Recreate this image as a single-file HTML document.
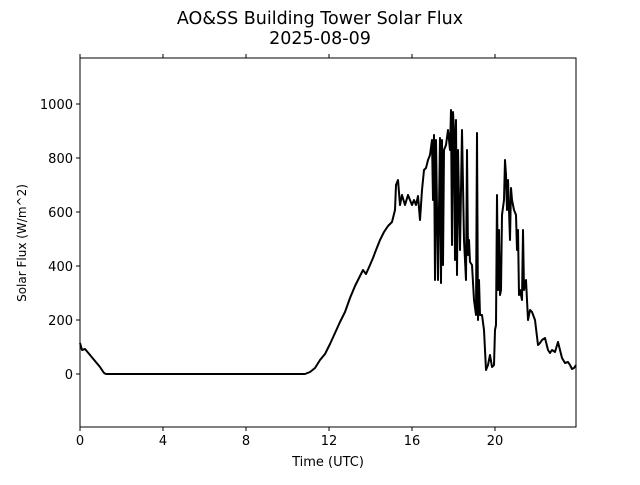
<!DOCTYPE html>
<html><head><style>body{margin:0;background:#fff}svg text{font-family:"DejaVu Sans","Liberation Sans",sans-serif}</style></head>
<body>
<svg width="640" height="480" viewBox="0 0 640 480">
<rect width="640" height="480" fill="#fff"/>
<text x="320" y="24" font-size="17.5" text-anchor="middle">AO&amp;SS Building Tower Solar Flux</text>
<text x="320" y="44" font-size="17.5" text-anchor="middle">2025-08-09</text>
<g stroke="#000" stroke-width="1">
<line x1="80" y1="427" x2="80" y2="431"/><line x1="163" y1="427" x2="163" y2="431"/><line x1="246" y1="427" x2="246" y2="431"/><line x1="329" y1="427" x2="329" y2="431"/><line x1="412" y1="427" x2="412" y2="431"/><line x1="495" y1="427" x2="495" y2="431"/>
<line x1="80" y1="58" x2="80" y2="54"/><line x1="163" y1="58" x2="163" y2="54"/><line x1="246" y1="58" x2="246" y2="54"/><line x1="329" y1="58" x2="329" y2="54"/><line x1="412" y1="58" x2="412" y2="54"/><line x1="495" y1="58" x2="495" y2="54"/>
<line x1="80" y1="374" x2="76" y2="374"/><line x1="80" y1="320" x2="76" y2="320"/><line x1="80" y1="266" x2="76" y2="266"/><line x1="80" y1="212" x2="76" y2="212"/><line x1="80" y1="158" x2="76" y2="158"/><line x1="80" y1="104" x2="76" y2="104"/>
</g>
<g font-size="13" text-anchor="middle">
<text x="80" y="445">0</text><text x="163" y="445">4</text><text x="246" y="445">8</text><text x="329" y="445">12</text><text x="412" y="445">16</text><text x="495" y="445">20</text>
</g>
<g font-size="13" text-anchor="end">
<text x="73" y="379">0</text><text x="73" y="325">200</text><text x="73" y="271">400</text><text x="73" y="217">600</text><text x="73" y="163">800</text><text x="73" y="109">1000</text>
</g>
<text x="328" y="466" font-size="13" text-anchor="middle">Time (UTC)</text>
<text transform="translate(26,243) rotate(-90)" font-size="12" text-anchor="middle">Solar Flux (W/m^2)</text>
<polyline fill="none" stroke="#000" stroke-width="2" stroke-linejoin="round" points="80,343 82,350 85,349 90,355 100,367 104,373 106,374 305,374 310,372 315,368 320,360 325,354 330,344 335,333 340,322 345,312 350,298 355,286 360,276 363,270 366,274 370,265 373,258 376,250 380,240 384,232 388,226 392,222 395,210 396,185 398,180 400,205 402,195 405,205 408,195 410,200 412,205 414,200 416,205 418,196 420,220 422,190 424,170 426,168 428,160 430,155 432,140 433,200 434,135 435,280 436,140 438,280 440,138 441,283 442,140 443,265 444,150 446,145 448,130 450,150 451,110 452,245 453,112 454,130 455,260 456,120 457,275 458,150 460,250 462,130 464,240 466,280 467,150 468,255 469,240 470,262 472,265 474,300 476,315 477,133 478,320 479,280 480,315 482,315 484,330 486,370 488,365 490,355 492,367 494,365 495,330 496,325 497,195 498,290 499,230 500,295 501,290 502,215 504,200 505,160 506,175 507,210 508,180 510,240 511,188 512,200 513,205 514,210 516,215 517,250 518,230 519,295 520,290 522,300 523,230 524,290 526,280 528,320 530,310 532,312 535,320 538,345 540,343 542,340 545,338 548,350 550,353 552,350 555,352 558,342 560,350 562,358 565,363 568,362 570,365 572,369 574,368 576,365"/>
<rect x="80" y="58" width="496" height="369" fill="none" stroke="#000" stroke-width="1"/>
</svg>
</body></html>
